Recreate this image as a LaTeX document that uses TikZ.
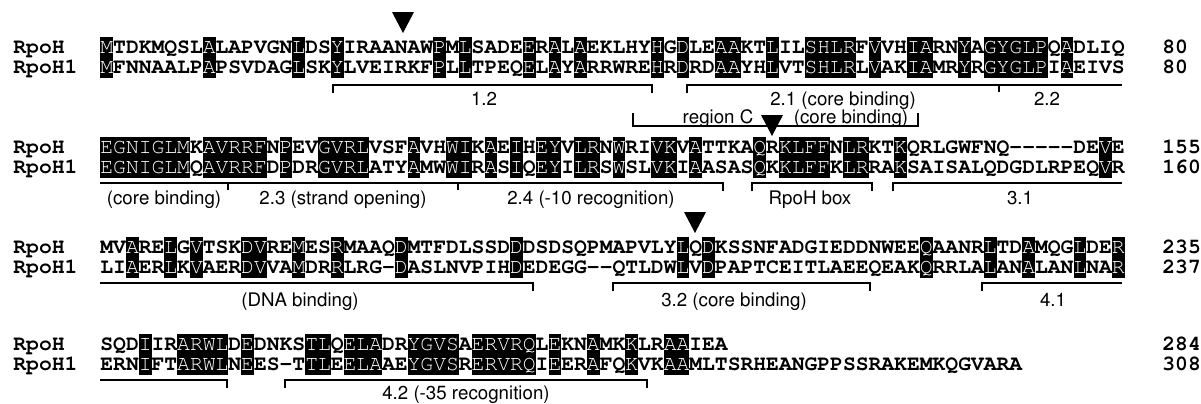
\documentclass[tikz,border=0pt]{standalone}
\usepackage[T1]{fontenc}
\usepackage{xcolor}
\newcommand\seqfont{\fontfamily{pcr}\selectfont}
\newcommand\lblfont{\fontfamily{phv}\selectfont}
\newcommand\seqsize{\fontsize{10.67}{12}\selectfont}
\newcommand\lblsize{\fontsize{9.35}{11}\selectfont}
% identical residue: white letter on a black column
\newcommand\idbox[1]{\setbox0=\hbox{\seqfont\mdseries#1}%
  \rlap{\rule[-2.4pt]{\wd0}{10.5pt}}\textcolor{white}{\box0}}
\tikzset{
  seqline/.style={anchor=base west,inner sep=0pt,font=\seqfont\bfseries\seqsize},
  seqname/.style={anchor=base west,inner sep=0pt,font=\seqfont\bfseries\seqsize},
  region/.style={anchor=base,inner sep=0pt,font=\lblfont\lblsize},
  bracket/.style={line width=0.75pt},
  site/.style={fill=black}
}
\begin{document}
\begin{tikzpicture}[x=0.5pt,y=-0.5pt]
\useasboundingbox (0,0) rectangle (1201,403);

% block 1
\node[seqname] (n1a) at (13,53.1) {RpoH};
\node[seqname] (n1b) at (13,73.6) {RpoH1};
\node[seqline] (s1a) at (100,53.1) {\idbox{M}TDKMQSL\idbox{A}LAPVGN\idbox{L}DS\idbox{Y}IRAANAW\idbox{P}M\idbox{L}SADE\idbox{E}R\idbox{A}L\idbox{A}EKLHY\idbox{H}G\idbox{D}LE\idbox{AA}KT\idbox{L}IL\idbox{SHLR}F\idbox{V}VH\idbox{IA}RN\idbox{Y}A\idbox{GYGLP}Q\idbox{A}DLIQ};
\node[seqline] (s1b) at (100,73.6) {\idbox{M}FNNAALP\idbox{A}PSVDAG\idbox{L}SK\idbox{Y}LVEIRKF\idbox{P}L\idbox{L}TPEQ\idbox{E}L\idbox{A}Y\idbox{A}RRWRE\idbox{H}R\idbox{D}RD\idbox{AA}YH\idbox{L}VT\idbox{SHLR}L\idbox{V}AK\idbox{IA}MR\idbox{Y}R\idbox{GYGLP}I\idbox{A}EIVS};
\node[seqname] (e1a) at (1162,53.1) {80};
\node[seqname] (e1b) at (1162,73.6) {80};
\fill[site] (392,12) -- (414,12) -- (403,33) -- cycle;
\draw[bracket] (333,93) -- (333,85) -- (652,85) -- (652,93);
\draw[bracket] (687,93) -- (687,85) -- (1122,85);
\draw[bracket] (999,85) -- (999,92);
\node[region] (r12) at (484,105.4) {1.2};
\node[region] (r21) at (843,105.4) {2.1 (core binding)};
\node[region] (r22) at (1047,105.4) {2.2};

% region C above block 2
\draw[bracket] (633,113) -- (633,126) -- (918,126) -- (918,113);
\node[region] (rc1) at (718,123) {region C};
\node[region] (rc2) at (851,123) {(core binding)};
\fill[site] (761,115) -- (783,115) -- (772,136) -- cycle;

% block 2
\node[seqname] (n2a) at (13,153.1) {RpoH};
\node[seqname] (n2b) at (13,173.6) {RpoH1};
\node[seqline] (s2a) at (100,153.1) {\idbox{EGNIGLM}K\idbox{AVRRF}N\idbox{P}EV\idbox{GVRL}VSF\idbox{A}VH\idbox{WI}K\idbox{A}E\idbox{I}H\idbox{EY}V\idbox{LR}N\idbox{W}RI\idbox{VK}V\idbox{A}TTKA\idbox{Q}R\idbox{KLFF}N\idbox{LR}KT\idbox{K}QRLGWFNQ-{}-{}-{}-{}-DE\idbox{V}E};
\node[seqline] (s2b) at (100,173.6) {\idbox{EGNIGLM}Q\idbox{AVRRF}D\idbox{P}DR\idbox{GVRL}ATY\idbox{A}MW\idbox{WI}R\idbox{A}S\idbox{I}Q\idbox{EY}I\idbox{LR}S\idbox{W}SL\idbox{VK}I\idbox{A}ASAS\idbox{Q}K\idbox{KLFF}K\idbox{LR}RA\idbox{K}SAISALQDGDLRPEQ\idbox{V}R};
\node[seqname] (e2a) at (1162,153.1) {155};
\node[seqname] (e2b) at (1162,173.6) {160};
\draw[bracket] (100,183) -- (723,183) -- (723,191);
\draw[bracket] (228,183) -- (228,190);
\draw[bracket] (458,183) -- (458,190);
\draw[bracket] (752,191) -- (752,183) -- (872,183) -- (872,191);
\draw[bracket] (893,191) -- (893,183) -- (1122,183);
\node[region] (r22b) at (164,204.4) {(core binding)};
\node[region] (r23) at (343,204.4) {2.3 (strand opening)};
\node[region] (r24) at (591,204.4) {2.4 (-10 recognition)};
\node[region] (rbox) at (810,204.4) {RpoH box};
\node[region] (r31) at (1020,204.4) {3.1};

% block 3
\fill[site] (684,212) -- (706,212) -- (695,233) -- cycle;
\node[seqname] (n3a) at (13,253.1) {RpoH};
\node[seqname] (n3b) at (13,273.6) {RpoH1};
\node[seqline] (s3a) at (100,253.1) {MV\idbox{A}RE\idbox{L}G\idbox{V}TSK\idbox{DV}RE\idbox{M}ES\idbox{R}MAAQ\idbox{D}MTFDLSSD\idbox{D}DSDSQPMAPVLY\idbox{L}Q\idbox{D}KSSNFADGIEDDNWEE\idbox{Q}AANR\idbox{L}TD\idbox{A}MQG\idbox{L}DE\idbox{R}};
\node[seqline] (s3b) at (100,273.6) {LI\idbox{A}ER\idbox{L}K\idbox{V}AER\idbox{DV}VA\idbox{M}DR\idbox{R}LRG-\idbox{D}ASLNVPIH\idbox{D}EDEGG-{}-QTLDW\idbox{L}V\idbox{D}PAPTCEITLAEEQEAK\idbox{Q}RRLA\idbox{L}AN\idbox{A}LAN\idbox{L}NA\idbox{R}};
\node[seqname] (e3a) at (1162,253.1) {235};
\node[seqname] (e3b) at (1162,273.6) {237};
\draw[bracket] (100,283) -- (533,283) -- (533,291);
\draw[bracket] (613,291) -- (613,283) -- (870,283) -- (870,291);
\draw[bracket] (982,291) -- (982,283) -- (1122,283);
\node[region] (r31b) at (300,306) {(DNA binding)};
\node[region] (r32) at (734,306) {3.2 (core binding)};
\node[region] (r41) at (1053,306) {4.1};

% block 4
\node[seqname] (n4a) at (13,350.1) {RpoH};
\node[seqname] (n4b) at (13,370.6) {RpoH1};
\node[seqline] (s4a) at (100,350.1) {SQD\idbox{I}IR\idbox{ARWL}D\idbox{E}DNKS\idbox{TL}Q\idbox{ELA}DR\idbox{YGVS}A\idbox{ERVRQ}L\idbox{E}KN\idbox{A}MK\idbox{K}LR\idbox{AA}IEA};
\node[seqline] (s4b) at (100,370.6) {ERN\idbox{I}FT\idbox{ARWL}N\idbox{E}ES-T\idbox{TL}E\idbox{ELA}AE\idbox{YGVS}R\idbox{ERVRQ}I\idbox{E}ER\idbox{A}FQ\idbox{K}VK\idbox{AA}MLTSRHEANGPPSSRAKEMKQGVARA};
\node[seqname] (e4a) at (1162,350.1) {284};
\node[seqname] (e4b) at (1162,370.6) {308};
\draw[bracket] (100,380) -- (227,380) -- (227,388);
\draw[bracket] (285,388) -- (285,380) -- (647,380) -- (647,388);
\node[region] (r42) at (466,399.5) {4.2 (-35 recognition)};
\end{tikzpicture}
\end{document}
